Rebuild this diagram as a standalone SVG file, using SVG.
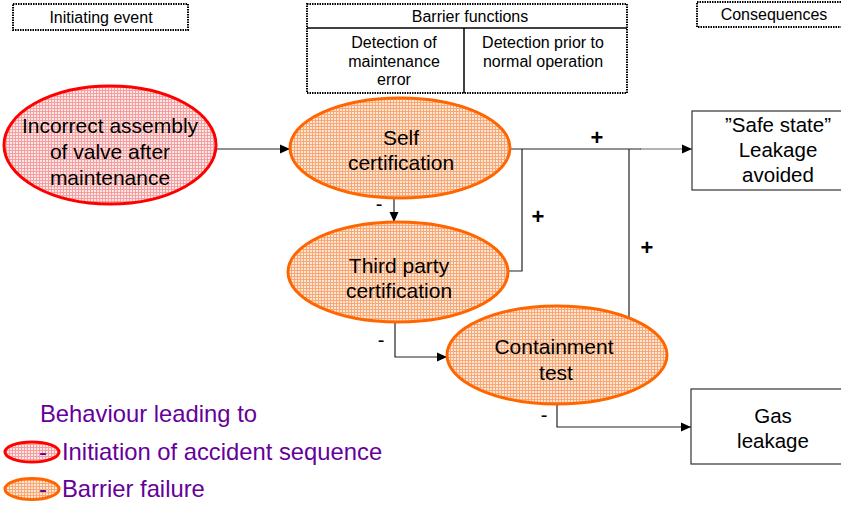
<svg xmlns="http://www.w3.org/2000/svg" width="841" height="506" viewBox="0 0 841 506">
<defs>
<pattern id="po" width="3" height="3" patternUnits="userSpaceOnUse">
<rect width="3" height="3" fill="#FDE6D6"/>
<rect width="3" height="1" fill="#F7A874"/>
<rect width="1" height="3" fill="#F7A874"/>
</pattern>
<pattern id="pr" width="3" height="3" patternUnits="userSpaceOnUse">
<rect width="3" height="3" fill="#FFE6E6"/>
<rect width="3" height="1" fill="#F4A0A0"/>
<rect width="1" height="3" fill="#F4A0A0"/>
</pattern>
<marker id="arr" viewBox="0 0 10 10" refX="10" refY="5" markerWidth="10" markerHeight="10" markerUnits="userSpaceOnUse" orient="auto">
<path d="M0,0.5 L10,5 L0,9.5 Z" fill="#000"/>
</marker>
<style>
text{font-family:"Liberation Sans",Arial,sans-serif;fill:#000}
.hd{font-size:16px;text-anchor:middle}
.el{font-size:21px;text-anchor:middle}
.bx{font-size:20.5px;text-anchor:middle}
.lg{font-size:23.8px;fill:#660099}
.pm{font-size:22px;text-anchor:middle;font-weight:bold}
.mn{font-size:20px;text-anchor:middle}
.dot{fill:#fff;stroke:#000;stroke-width:2;stroke-dasharray:1.5 1}
.ell-o{fill:url(#po);stroke:#FF6600;stroke-width:3}
.ell-r{fill:url(#pr);stroke:#FF0000;stroke-width:3}
.box{fill:#fff;stroke:#333;stroke-width:1.2}
.ln{fill:none;stroke:#222;stroke-width:1.2}
</style>
</defs>

<g id="hdr-initiating">
<rect class="dot" x="13" y="4" width="175" height="26"/>
<text class="hd" x="101" y="23">Initiating event</text>
</g>
<g id="hdr-barrier">
<rect class="dot" x="307" y="4" width="320" height="89"/>
<line x1="307" y1="28" x2="627" y2="28" stroke="#000" stroke-width="1.5"/>
<line x1="464" y1="28" x2="464" y2="93" stroke="#000" stroke-width="1.5"/>
<text class="hd" x="470" y="22">Barrier functions</text>
<text class="hd" x="394" y="48">Detection of</text>
<text class="hd" x="394" y="67">maintenance</text>
<text class="hd" x="394" y="85">error</text>
<text class="hd" x="543" y="48">Detection prior to</text>
<text class="hd" x="543" y="67">normal operation</text>
</g>
<g id="hdr-consequences">
<rect class="dot" x="697" y="2" width="150" height="25"/>
<text class="hd" x="774" y="20">Consequences</text>
</g>

<g id="connectors">
<line class="ln" x1="216" y1="149" x2="290" y2="149" marker-end="url(#arr)"/>
<line class="ln" x1="510" y1="149" x2="641" y2="149"/>
<line x1="640" y1="149" x2="692" y2="149" stroke="#666" stroke-width="1.2" marker-end="url(#arr)"/>
<polyline class="ln" points="509,271 522,271 522,149"/>
<line class="ln" x1="629" y1="149" x2="629" y2="318"/>
<line class="ln" x1="394" y1="198" x2="394" y2="222" marker-end="url(#arr)"/>
<polyline class="ln" points="395,323 395,357 447,357" marker-end="url(#arr)"/>
<polyline class="ln" points="557,404 557,427 691,427" marker-end="url(#arr)"/>
<text class="pm" x="597" y="145">+</text>
<text class="pm" x="538" y="224">+</text>
<text class="pm" x="647" y="255">+</text>
<text class="mn" x="379" y="211">-</text>
<text class="mn" x="381" y="347">-</text>
<text class="mn" x="544" y="422">-</text>
</g>

<g id="n-incorrect">
<ellipse class="ell-r" cx="110" cy="145" rx="106" ry="59"/>
<text class="el" x="110" y="133">Incorrect assembly</text>
<text class="el" x="110" y="159">of valve after</text>
<text class="el" x="110" y="185">maintenance</text>
</g>
<g id="n-self">
<ellipse class="ell-o" cx="400" cy="148" rx="110" ry="50"/>
<text class="el" x="401" y="145">Self</text>
<text class="el" x="401" y="170">certification</text>
</g>
<g id="n-third">
<ellipse class="ell-o" cx="398" cy="272" rx="110" ry="50"/>
<text class="el" x="399" y="273">Third party</text>
<text class="el" x="399" y="298">certification</text>
</g>
<g id="n-containment">
<ellipse class="ell-o" cx="557" cy="355" rx="110" ry="49"/>
<text class="el" x="554" y="354">Containment</text>
<text class="el" x="556" y="380">test</text>
</g>
<g id="n-safe">
<rect class="box" x="692" y="111" width="160" height="79"/>
<text class="bx" x="778" y="132">”Safe state”</text>
<text class="bx" x="778" y="157">Leakage</text>
<text class="bx" x="778" y="182">avoided</text>
</g>
<g id="n-gas">
<rect class="box" x="691" y="389" width="160" height="75"/>
<text class="bx" x="773" y="423">Gas</text>
<text class="bx" x="773" y="448">leakage</text>
</g>

<g id="legend">
<text class="lg" x="40" y="422">Behaviour leading to</text>
<ellipse class="ell-r" cx="32" cy="452" rx="27" ry="10"/>
<text class="lg" y="460"><tspan x="39">-</tspan><tspan x="62">Initiation of accident sequence</tspan></text>
<ellipse class="ell-o" cx="32" cy="489" rx="27" ry="10.5"/>
<text class="lg" y="497"><tspan x="39">-</tspan><tspan x="62">Barrier failure</tspan></text>
</g>
</svg>
